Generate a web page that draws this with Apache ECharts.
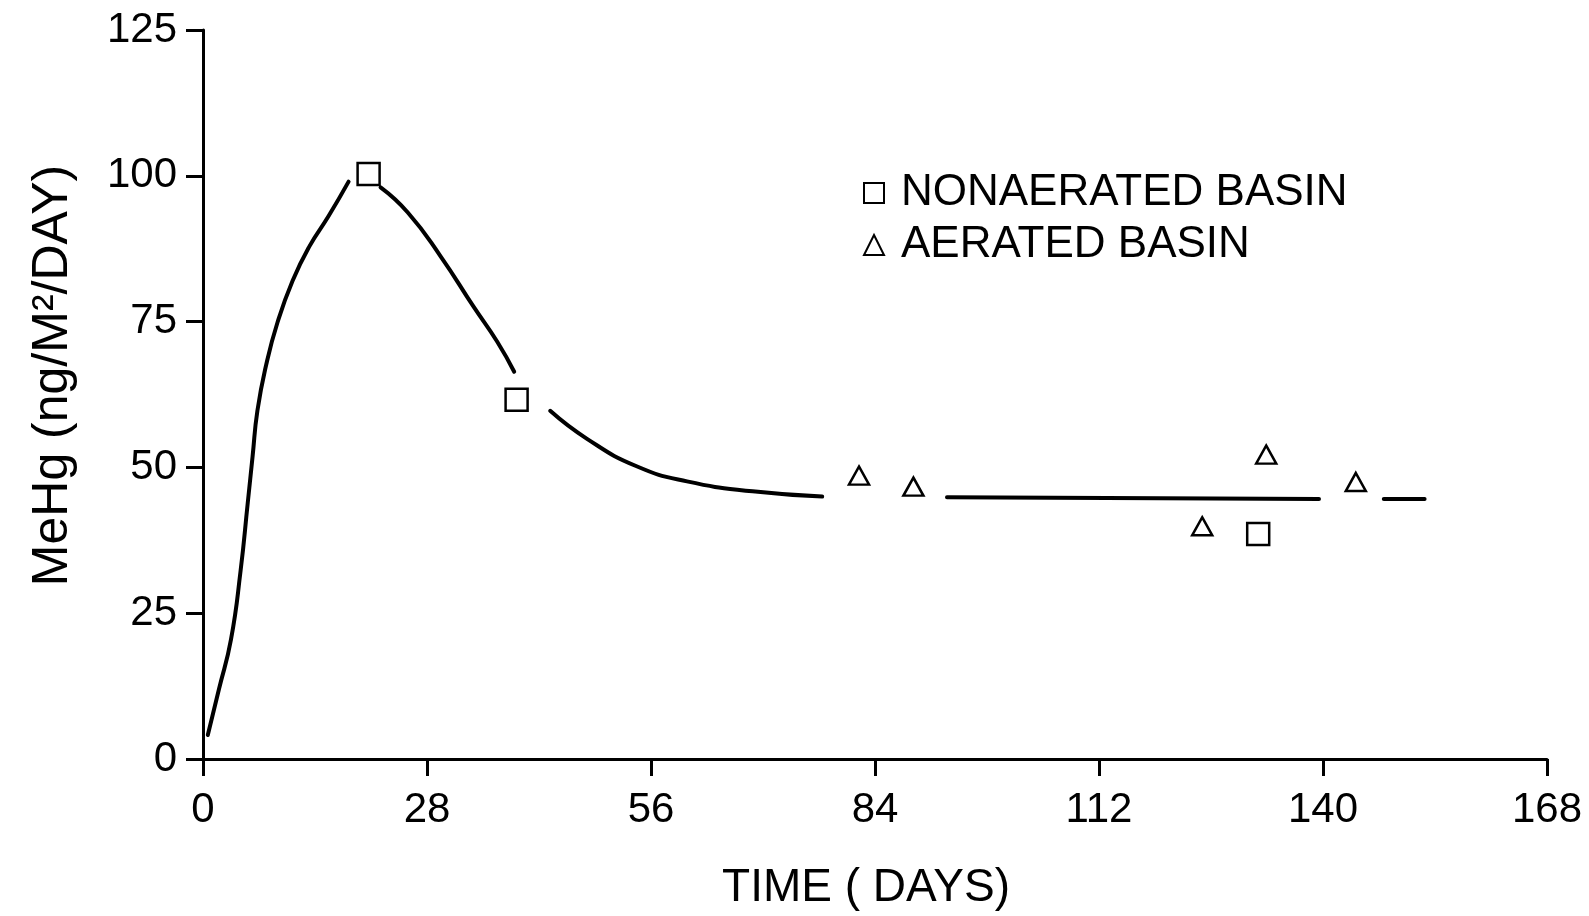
<!DOCTYPE html>
<html>
<head>
<meta charset="utf-8">
<script src="https://cdn.jsdelivr.net/npm/echarts@6/dist/echarts.min.js"></script>
<style>
  html, body { margin: 0; padding: 0; background: #fff; }
  #chart { width: 1589px; height: 916px; }
</style>
</head>
<body>
<div id="chart"></div>
<script>
// Measured MeHg flux, ng/m²/day, by basin type
const nonaeratedDays   = [20.7, 39.2, 131.9];
const nonaeratedValues = [100.3, 61.6, 38.6];

const aeratedDays   = [82.0, 88.8, 124.9, 132.9, 144.1];
const aeratedValues = [48.6, 46.7, 39.9, 52.2, 47.5];

// Hand-drawn trend curve, drawn in pieces broken around the markers
const trendSegments = [
  [[0.6, 4.1], [2.0, 12.0], [3.5, 20.5], [4.7, 32.3], [5.6, 44.0], [6.2, 51.9],
   [6.8, 59.7], [7.9, 67.6], [9.3, 74.8], [11.2, 82.0], [13.3, 87.9], [15.7, 93.1],
   [18.2, 99.0]],
  [[22.2, 98.0], [25.6, 93.7], [29.7, 86.2], [33.8, 77.6], [36.8, 71.5], [38.9, 66.4]],
  [[43.4, 59.7], [48.0, 54.9], [54.2, 50.2], [60.5, 47.6], [68.7, 45.9], [77.4, 45.0]],
  [[93.0, 44.9], [139.5, 44.6]],
  [[147.6, 44.6], [152.7, 44.6]]
];

const xTicks = { min: 0, max: 168, step: 28 };
const yTicks = { min: 0, max: 125, step: 25 };

const seriesNames = ['NONAERATED BASIN', 'AERATED BASIN'];
const xTitle = 'TIME ( DAYS)';
const yTitle = 'MeHg (ng/M²/DAY)';

const FONT = '"Liberation Sans", Arial, sans-serif';
const INK = '#000';

// Join the trend pieces with null points so the line breaks between them
const trendData = [];
trendSegments.forEach((seg, i) => {
  if (i > 0) trendData.push([seg[0][0], null]);
  seg.forEach(p => trendData.push(p));
});

const zip = (xs, ys) => xs.map((x, i) => [x, ys[i]]);

const axisCommon = {
  axisLine: { show: true, onZero: false, lineStyle: { color: INK, width: 3 } },
  axisTick: { show: true, inside: false, length: 17, lineStyle: { color: INK, width: 3 } },
  splitLine: { show: false }
};

const chart = echarts.init(document.getElementById('chart'), null, { renderer: 'canvas' });

chart.setOption({
  backgroundColor: '#fff',
  animation: false,
  grid: { left: 203, right: 42, top: 30, bottom: 154, containLabel: false },
  xAxis: Object.assign({}, axisCommon, {
    type: 'value',
    min: xTicks.min, max: xTicks.max, interval: xTicks.step,
    axisLabel: { color: INK, fontFamily: FONT, fontSize: 42, margin: 30 },
    name: xTitle,
    nameLocation: 'middle',
    nameGap: 106,
    nameTextStyle: { color: INK, fontFamily: FONT, fontSize: 46, padding: [0, 18, 0, 0] }
  }),
  yAxis: Object.assign({}, axisCommon, {
    type: 'value',
    min: yTicks.min, max: yTicks.max, interval: yTicks.step,
    axisLabel: { color: INK, fontFamily: FONT, fontSize: 42, margin: 26 },
    name: yTitle,
    nameLocation: 'middle',
    nameGap: 125,
    nameTextStyle: { color: INK, fontFamily: FONT, fontSize: 50, padding: [0, 0, 0, 38] }
  }),
  legend: {
    orient: 'vertical',
    left: 858,
    top: 166,
    itemWidth: 20,
    itemHeight: 20,
    itemGap: 8,
    textStyle: { color: INK, fontFamily: FONT, fontSize: 44, padding: [0, 0, 0, 12] },
    data: [
      { name: seriesNames[0], icon: 'rect' },
      { name: seriesNames[1], icon: 'triangle' }
    ]
  },
  series: [
    {
      name: 'trend',
      type: 'line',
      data: trendData,
      smooth: 0.5,
      connectNulls: false,
      showSymbol: false,
      silent: true,
      lineStyle: { color: INK, width: 4, cap: 'round' },
      z: 1
    },
    {
      name: seriesNames[0],
      type: 'scatter',
      data: zip(nonaeratedDays, nonaeratedValues),
      symbol: 'rect',
      symbolSize: 22,
      itemStyle: { color: '#fff', borderColor: INK, borderWidth: 2.5, opacity: 1 },
      z: 3
    },
    {
      name: seriesNames[1],
      type: 'scatter',
      data: zip(aeratedDays, aeratedValues),
      symbol: 'triangle',
      symbolSize: [20, 18],
      itemStyle: { color: '#fff', borderColor: INK, borderWidth: 2.5, opacity: 1 },
      z: 3
    }
  ]
});
</script>
</body>
</html>
